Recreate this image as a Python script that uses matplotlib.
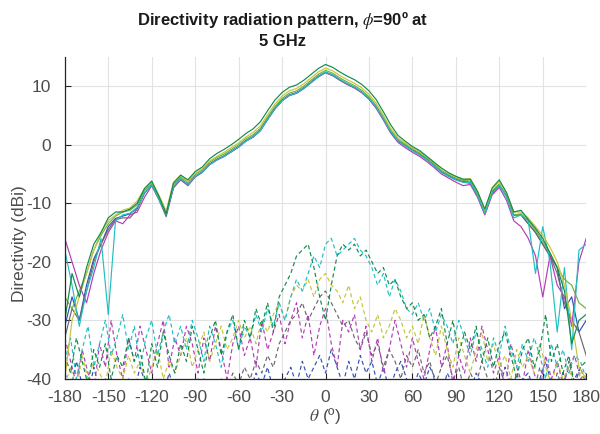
import matplotlib.pyplot as plt
import numpy as np

plt.rcParams['font.family'] = ['Liberation Sans', 'DejaVu Sans']
plt.rcParams['mathtext.fontset'] = 'stix'
plt.rcParams['axes.unicode_minus'] = False

# angle grids (deg)
theta_co = np.arange(-180, 181, 5)
theta_x = np.arange(-180, 181, 4)

# co-polar directivity (dBi), one list per sweep
co_blue = [-31, -26, -30, -24, -19.5, -17, -14, -12.6, -12.2, -11.8, -10.8, -8.3,
           -6.8, -9.2, -11.9, -7.2, -5.8, -6.8, -5.4, -4.6, -3.3, -2.5, -1.9, -1.1,
           -0.3, 0.7, 1.4, 2.5, 4.4, 6.2, 7.6, 8.5, 8.9, 9.7, 10.7, 11.7,
           12.4, 11.9, 11.1, 10.4, 9.8, 9.0, 7.9, 6.4, 4.4, 2.2, 0.7, -0.1,
           -0.9, -1.6, -2.5, -3.5, -4.6, -5.3, -5.9, -6.3, -6.4, -8.6, -11.7, -8.1,
           -6.8, -8.7, -12, -12, -13.5, -15, -17, -19, -21, -28, -26, -32,
           -30]
co_gray = [-33, -28, -30, -25, -20, -17, -14.5, -12.8, -12.5, -12.5, -11, -8.2,
           -6.9, -9.4, -12.3, -7.4, -6.0, -7.0, -5.5, -4.7, -3.4, -2.6, -2.0, -1.2,
           -0.4, 0.6, 1.3, 2.4, 4.3, 6.1, 7.5, 8.4, 8.8, 9.6, 10.6, 11.6,
           12.3, 11.8, 11.0, 10.3, 9.7, 8.9, 7.8, 6.3, 4.3, 2.1, 0.6, -0.2,
           -1.0, -1.7, -2.6, -3.6, -4.7, -5.4, -6.0, -6.4, -6.6, -8.8, -11.9, -8.4,
           -7.0, -8.7, -12, -12, -13.5, -15, -17, -19, -22, -27, -30, -32,
           -36]
co_lgreen = [-26, -28, -25, -22, -18, -15.5, -13.5, -12.2, -11.5, -11.2, -10.3, -7.8,
             -6.5, -9.0, -11.7, -6.9, -5.5, -6.5, -5.1, -4.3, -3.0, -2.2, -1.6, -0.8,
             0.0, 1.0, 1.7, 2.8, 4.7, 6.5, 7.9, 8.8, 9.2, 10.0, 11.0, 12.0,
             12.7, 12.2, 11.4, 10.7, 10.1, 9.3, 8.2, 6.7, 4.7, 2.5, 0.9, 0.1,
             -0.7, -1.4, -2.3, -3.3, -4.4, -5.1, -5.7, -6.1, -6.2, -8.4, -11.5, -7.9,
             -6.7, -8.8, -12, -11.8, -13, -14.6, -16.5, -18.5, -21, -23, -24, -27,
             -28]
co_magenta = [-16, -20, -24, -27, -22, -18, -15, -13, -13.5, -12, -11.5, -9,
              -7.0, -9.3, -11.8, -7.3, -5.9, -6.9, -5.5, -4.7, -3.4, -2.6, -2.0, -1.2,
              -0.4, 0.6, 1.3, 2.4, 4.3, 6.1, 7.5, 8.4, 8.8, 9.6, 10.6, 11.6,
              12.3, 11.8, 11.0, 10.3, 9.7, 8.9, 7.8, 6.2, 4.2, 2.0, 0.4, -0.5,
              -1.3, -2.0, -2.9, -3.9, -5.0, -5.7, -6.4, -7.0, -6.8, -9.0, -12.0, -8.6,
              -7.3, -9.5, -13, -14, -16, -19, -26, -19, -24, -26, -31, -20,
              -16]
co_cyan = [-18, -24, -31, -25, -21, -16, -29, -13, -12, -11.7, -10.7, -8.3,
           -6.8, -9.3, -11.9, -7.2, -5.8, -6.8, -5.4, -4.7, -3.4, -2.6, -2.0, -1.2,
           -0.4, 0.6, 1.3, 2.4, 4.3, 6.1, 7.5, 8.4, 8.8, 9.6, 10.6, 11.6,
           12.4, 11.9, 11.1, 10.4, 9.8, 9.0, 7.9, 6.4, 4.4, 2.2, 0.6, -0.2,
           -1.0, -1.7, -2.6, -3.6, -4.7, -5.4, -6.0, -6.4, -6.5, -8.7, -11.8, -8.3,
           -6.9, -9, -12.5, -12, -13, -22, -14, -20, -32, -21, -35, -18,
           -17]
co_yellow = [-40, -30, -26, -22, -18, -15, -13, -12, -11.2, -10.8, -9.6, -7.5,
             -6.3, -8.6, -11.3, -6.4, -5.2, -6.2, -4.9, -4.1, -2.8, -2.0, -1.3, -0.5,
             0.3, 1.3, 2.1, 3.2, 5.1, 6.9, 8.3, 9.2, 9.6, 10.4, 11.4, 12.4,
             13.1, 12.6, 11.8, 11.1, 10.5, 9.7, 8.6, 7.1, 5.0, 2.8, 1.2, 0.3,
             -0.5, -1.2, -2.1, -3.1, -4.0, -4.8, -5.5, -5.9, -5.8, -8.0, -11.2, -7.6,
             -6.3, -8.2, -11.5, -11.5, -12.5, -14, -15.5, -17.5, -20, -24, -30, -38,
             -40]
co_dgreen = [-30, -22, -26, -21, -17, -15, -12.5, -11.5, -11.5, -11, -10, -7.5,
             -6.2, -8.8, -11.8, -6.6, -5.2, -6.0, -4.6, -3.8, -2.4, -1.5, -0.8, 0.0,
             0.9, 1.9, 2.7, 3.9, 5.8, 7.6, 8.9, 9.8, 10.2, 11.0, 12.0, 13.0,
             13.7, 13.2, 12.4, 11.7, 11.1, 10.3, 9.2, 7.7, 5.6, 3.4, 1.6, 0.6,
             -0.3, -1.0, -2.0, -3.0, -4.0, -4.8, -5.4, -5.9, -5.9, -8.0, -11.0, -7.4,
             -6.0, -8.2, -11.5, -11.2, -12.8, -14.3, -16, -18.5, -21, -25, -34, -30,
             -29]

# cross-polar directivity (dBi)
x_blue = [-39, -42, -37, -41, -43, -38, -42, -40, -44, -41,
          -43, -40, -42, -38, -41, -44, -40, -43, -39, -42,
          -44, -41, -43, -40, -42, -44, -41, -43, -40, -42,
          -43, -40, -42, -39, -41, -38, -42, -44, -40, -38,
          -41, -37, -40, -38, -36, -39, -35, -38, -41, -37,
          -40, -36, -39, -37, -41, -38, -42, -39, -37, -40,
          -42, -39, -41, -38, -40, -43, -39, -41, -44, -40,
          -42, -39, -41, -44, -40, -42, -38, -41, -43, -40,
          -39, -42, -40, -37, -41, -43, -39, -42, -40, -38,
          -41]
x_gray = [-43, -41, -44, -42, -40, -43, -41, -44, -42, -43,
          -41, -43, -42, -44, -40, -43, -41, -42, -44, -41,
          -43, -41, -44, -42, -40, -41, -43, -40, -42, -39,
          -41, -38, -40, -37, -39, -36, -38, -34, -32, -30,
          -29, -27, -30, -28, -26, -25, -27, -29, -31, -30,
          -33, -35, -32, -36, -34, -38, -35, -37, -40, -36,
          -38, -35, -39, -37, -41, -38, -36, -40, -38, -42,
          -39, -41, -37, -40, -42, -38, -41, -43, -39, -42,
          -40, -42, -38, -41, -43, -39, -42, -37, -41, -43,
          -42]
x_magenta = [-33, -37, -41, -35, -39, -42, -34, -38, -30, -36,
             -40, -33, -37, -31, -35, -39, -34, -30, -38, -33,
             -36, -31, -34, -39, -33, -37, -31, -35, -40, -34,
             -31, -36, -33, -38, -30, -35, -32, -29, -34, -30,
             -27, -33, -29, -36, -31, -28, -34, -38, -30, -32,
             -29, -35, -31, -37, -33, -39, -35, -30, -34, -38,
             -33, -37, -40, -35, -31, -38, -34, -41, -36, -39,
             -33, -37, -31, -35, -39, -36, -42, -34, -38, -41,
             -35, -39, -42, -36, -40, -37, -41, -38, -36, -40,
             -39]
x_yellow = [-41, -38, -42, -36, -40, -37, -39, -41, -35, -38,
            -40, -36, -39, -37, -41, -38, -35, -40, -37, -39,
            -36, -33, -38, -35, -32, -37, -34, -31, -35, -33,
            -30, -33, -31, -34, -30, -32, -29, -27, -30, -26,
            -24, -25, -23, -26, -23, -22, -24, -25, -27, -24,
            -28, -26, -30, -32, -29, -33, -31, -28, -30, -33,
            -31, -34, -29, -33, -36, -31, -35, -38, -33, -36,
            -39, -35, -32, -37, -34, -38, -36, -40, -35, -38,
            -36, -39, -34, -38, -41, -37, -40, -38, -42, -39,
            -41]
x_cyan = [-37, -33, -40, -35, -31, -38, -34, -30, -36, -33,
          -29, -35, -31, -38, -33, -30, -36, -32, -29, -34,
          -31, -35, -30, -33, -37, -31, -34, -38, -32, -30,
          -35, -31, -33, -29, -32, -28, -31, -27, -30, -26,
          -23, -25, -22, -19, -21, -17, -16, -19, -18, -17,
          -16, -18, -19, -21, -24, -22, -26, -23, -25, -28,
          -29, -27, -30, -28, -32, -29, -31, -34, -30, -33,
          -36, -32, -35, -38, -33, -36, -31, -35, -38, -34,
          -37, -33, -36, -40, -34, -38, -35, -39, -36, -37,
          -40]
x_dgreen = [-36, -39, -33, -37, -41, -35, -38, -34, -40, -36,
            -38, -33, -37, -35, -41, -34, -38, -32, -36, -39,
            -34, -37, -31, -35, -39, -33, -30, -36, -32, -29,
            -35, -30, -33, -28, -31, -27, -32, -26, -24, -22,
            -19, -18, -17, -21, -26, -30, -24, -19, -17, -18,
            -17, -19, -18, -20, -22, -21, -24, -23, -26, -28,
            -27, -30, -29, -33, -31, -28, -34, -30, -36, -32,
            -35, -31, -37, -33, -38, -34, -32, -36, -40, -35,
            -33, -38, -35, -29, -37, -34, -39, -36, -41, -38,
            -37]

c_blue = '#3450b4'
c_gray = '#6a6a6a'
c_lgreen = '#6cb33e'
c_magenta = '#b23db4'
c_cyan = '#1fbfc4'
c_yellow = '#c6c43a'
c_dgreen = '#138a4c'

fig = plt.figure(figsize=(6, 4.34), dpi=100)
ax = fig.add_axes([0.108, 0.127, 0.869, 0.742])

dash = (3.5, 2.5)
for y, c in [(x_blue, c_blue), (x_gray, c_gray), (x_magenta, c_magenta),
             (x_yellow, c_yellow), (x_cyan, c_cyan), (x_dgreen, c_dgreen)]:
    ax.plot(theta_x, y, color=c, lw=0.85, linestyle=(0, dash))

for y, c in [(co_blue, c_blue), (co_gray, c_gray), (co_lgreen, c_lgreen),
             (co_magenta, c_magenta), (co_cyan, c_cyan), (co_yellow, c_yellow),
             (co_dgreen, c_dgreen)]:
    ax.plot(theta_co, y, color=c, lw=0.85)

ax.set_xlim(-180, 180)
ax.set_ylim(-40, 15)
ax.set_xticks(np.arange(-180, 181, 30))
ax.set_yticks(np.arange(-40, 11, 10))
ax.grid(True, color='#e2e2e2', lw=0.8)
ax.set_axisbelow(True)
for s in ['top', 'right']:
    ax.spines[s].set_visible(False)
for s in ['left', 'bottom']:
    ax.spines[s].set_color('#262626')
    ax.spines[s].set_linewidth(0.9)
ax.tick_params(direction='in', length=4, width=0.8, colors='#262626',
               labelsize=12.5, labelcolor='#4d4d4d')
ax.tick_params(axis='x', pad=8)
ax.tick_params(axis='y', pad=10)

ax.set_xlabel(r'$\theta$ (º)', fontsize=12.5, color='#4d4d4d', labelpad=1)
ax.set_ylabel('Directivity (dBi)', fontsize=12.5, color='#4d4d4d', labelpad=4)
ax.yaxis.set_label_coords(-0.072, 0.42)
ax.set_title('Directivity radiation pattern, $\\phi$=90º at\n5 GHz',
             fontsize=12, fontweight='bold', color='#1a1a1a', pad=8, x=0.417)

fig.savefig('out.png', dpi=100)
